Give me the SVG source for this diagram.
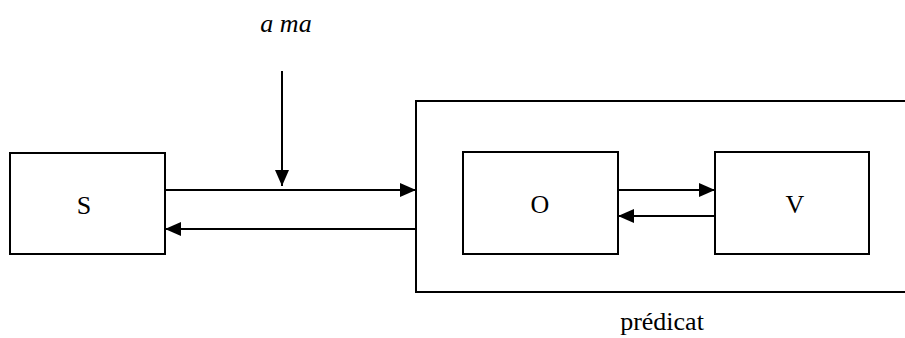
<svg xmlns="http://www.w3.org/2000/svg" width="905" height="338" viewBox="0 0 905 338">
<style>
.box{fill:none;stroke:#000;stroke-width:2}
.ln{fill:none;stroke:#000;stroke-width:2}
.t{font-family:"Liberation Serif","Times New Roman",serif;font-size:26px;fill:#000;text-anchor:middle}
.it{font-style:italic}
</style>
<defs>
<marker id="ah" markerUnits="userSpaceOnUse" markerWidth="16" markerHeight="14" refX="16" refY="7" orient="auto">
<path d="M0,0 L16,7 L0,14 Z" fill="#000"/>
</marker>
</defs>
<rect width="905" height="338" fill="#fff"/>
<g id="predicat">
<rect class="box" x="416" y="101" width="500" height="191"/>
<text class="t" x="662" y="330">prédicat</text>
</g>
<g id="S">
<rect class="box" x="10" y="153" width="155" height="101"/>
<text class="t" x="84" y="214">S</text>
</g>
<g id="O">
<rect class="box" x="463" y="152" width="155" height="102"/>
<text class="t" x="540" y="213">O</text>
</g>
<g id="V">
<rect class="box" x="715" y="152" width="154" height="102"/>
<text class="t" x="795" y="213">V</text>
</g>
<g id="ama">
<text class="t it" x="286" y="32">a ma</text>
</g>
<g id="connectors">
<line class="ln" x1="165" y1="190" x2="416" y2="190" marker-end="url(#ah)"/>
<line class="ln" x1="416" y1="229" x2="165" y2="229" marker-end="url(#ah)"/>
<line class="ln" x1="282" y1="71" x2="282" y2="186" marker-end="url(#ah)"/>
<line class="ln" x1="618" y1="190" x2="715" y2="190" marker-end="url(#ah)"/>
<line class="ln" x1="715" y1="216" x2="618" y2="216" marker-end="url(#ah)"/>
</g>
</svg>
